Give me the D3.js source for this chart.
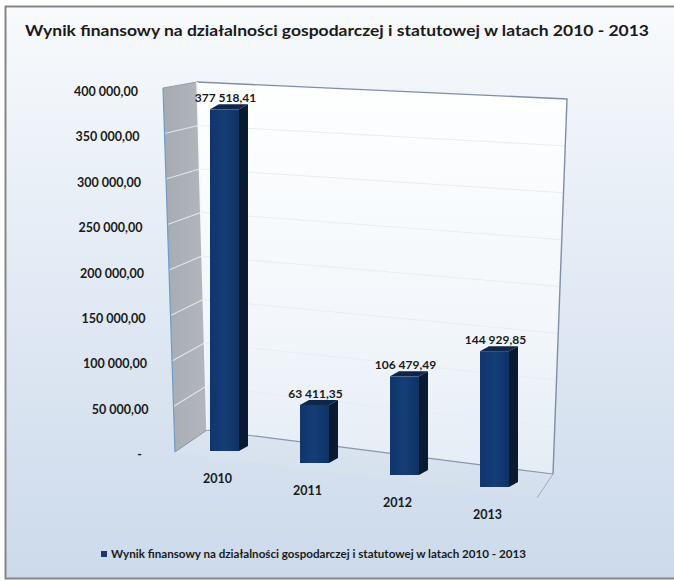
<!DOCTYPE html>
<html>
<head>
<meta charset="utf-8">
<script src="https://cdn.jsdelivr.net/npm/d3@7"></script>
<style>
  body { margin: 0; background: #ffffff; }
  svg { display: block; }
  text { font-family: "Lato", "Open Sans", "DejaVu Sans", sans-serif; font-weight: 700; fill: #1a1a1a; }
</style>
</head>
<body>
<script>
// ---- data ----
const chartTitle = "Wynik finansowy na działalności gospodarczej i statutowej w latach 2010 - 2013";
const seriesName = "Wynik finansowy na działalności gospodarczej i statutowej w latach 2010 - 2013";
const years = ["2010", "2011", "2012", "2013"];
const results = [377518.41, 63411.35, 106479.49, 144929.85];
const resultLabels = ["377 518,41", "63 411,35", "106 479,49", "144 929,85"];
const tickValues = [0, 50000, 100000, 150000, 200000, 250000, 300000, 350000, 400000];
const tickLabels = ["-", "50 000,00", "100 000,00", "150 000,00", "200 000,00",
                    "250 000,00", "300 000,00", "350 000,00", "400 000,00"];

const W = 674, H = 581;
const svg = d3.select("body").append("svg").attr("width", W).attr("height", H);
const defs = svg.append("defs");

function linGrad(id, x1, y1, x2, y2, stops) {
  const g = defs.append("linearGradient").attr("id", id)
    .attr("x1", x1).attr("y1", y1).attr("x2", x2).attr("y2", y2);
  stops.forEach(([o, c]) => g.append("stop").attr("offset", o).attr("stop-color", c));
}
linGrad("panelBg", 0, 0, 0, 1, [[0, "#f8fafc"], [0.45, "#e3ebf5"], [1, "#ccdaeb"]]);
linGrad("backWall", 0, 0, 0, 1, [[0, "#feffff"], [0.6, "#f3f7fb"], [1, "#e4ecf5"]]);
linGrad("sideWall", 0, 0, 1, 0, [[0, "#a6abb2"], [1, "#b3b7bd"]]);
linGrad("floorFill", 0, 0, 0, 1, [[0, "#dbe5f1"], [1, "#d4dfed"]]);
linGrad("barFront", 0, 0, 1, 0, [[0, "#0f356c"], [0.5, "#153d76"], [1, "#0f3265"]]);

// ---- outer panel ----
svg.append("rect").attr("x", 5.5).attr("y", 6.5).attr("width", W).attr("height", 572)
  .attr("fill", "url(#panelBg)").attr("stroke", "#858585").attr("stroke-width", 2);

// ---- title ----
svg.append("text").attr("x", 337).attr("y", 36).attr("text-anchor", "middle")
  .attr("font-size", 16).attr("textLength", 624).attr("lengthAdjust", "spacingAndGlyphs")
  .text(chartTitle);

// ---- 3D frame (walls + floor) ----
const lerp = (a, b, t) => [a[0] + (b[0] - a[0]) * t, a[1] + (b[1] - a[1]) * t];
const sideFrontBottom = [175, 452], sideFrontTop = [163, 88];
const backLeftBottom = [207, 430], backLeftTop = [197, 82];
const backRightBottom = [553, 474], backRightTop = [567, 99];
const floorFrontRight = [537, 498];

// fraction of wall height for a value
const wallT = d3.scaleLinear().domain([0, 400000]).range([0, 1]);

const poly = pts => "M" + pts.map(p => p.join(",")).join("L") + "Z";

// floor
svg.append("path")
  .attr("d", poly([sideFrontBottom, backLeftBottom, backRightBottom, floorFrontRight]))
  .attr("fill", "url(#floorFill)");
svg.append("path")
  .attr("d", "M" + backRightBottom.join(",") + "L" + floorFrontRight.join(","))
  .attr("stroke", "#9fadc0").attr("stroke-width", 1).attr("fill", "none");

// back wall
svg.append("path")
  .attr("d", poly([backLeftBottom, backLeftTop, backRightTop, backRightBottom]))
  .attr("fill", "url(#backWall)");
tickValues.slice(1, -1).forEach(v => {
  const t = wallT(v);
  const a = lerp(backLeftBottom, backLeftTop, t), b = lerp(backRightBottom, backRightTop, t);
  svg.append("line").attr("x1", a[0]).attr("y1", a[1]).attr("x2", b[0]).attr("y2", b[1])
    .attr("stroke", "#e8edf3").attr("stroke-width", 1);
});
svg.append("path")
  .attr("d", "M" + backLeftTop.join(",") + "L" + backRightTop.join(",") + "L" + backRightBottom.join(","))
  .attr("stroke", "#7f8ea6").attr("stroke-width", 1.4).attr("fill", "none");
svg.append("path")
  .attr("d", "M" + backLeftBottom.join(",") + "L" + backRightBottom.join(","))
  .attr("stroke", "#8796ad").attr("stroke-width", 1.2).attr("fill", "none");

// side wall
svg.append("path")
  .attr("d", poly([sideFrontBottom, sideFrontTop, backLeftTop, backLeftBottom]))
  .attr("fill", "url(#sideWall)");
tickValues.slice(1, -1).forEach(v => {
  const t = wallT(v);
  const a = lerp(sideFrontBottom, sideFrontTop, t), b = lerp(backLeftBottom, backLeftTop, t);
  svg.append("line").attr("x1", a[0]).attr("y1", a[1]).attr("x2", b[0]).attr("y2", b[1])
    .attr("stroke", "#e2e5e9").attr("stroke-width", 1.2);
});
svg.append("path")
  .attr("d", "M" + sideFrontBottom.join(",") + "L" + sideFrontTop.join(","))
  .attr("stroke", "#6f9ccc").attr("stroke-width", 1.2).attr("fill", "none");
svg.append("path")
  .attr("d", "M" + sideFrontTop.join(",") + "L" + backLeftTop.join(","))
  .attr("stroke", "#9aa0a8").attr("stroke-width", 1.2).attr("fill", "none");
svg.append("path")
  .attr("d", "M" + backLeftTop.join(",") + "L" + backLeftBottom.join(","))
  .attr("stroke", "#f4f7fb").attr("stroke-width", 1.5).attr("fill", "none");
svg.append("path")
  .attr("d", "M" + sideFrontBottom.join(",") + "L" + backLeftBottom.join(","))
  .attr("stroke", "#8a98ad").attr("stroke-width", 1).attr("fill", "none");

// ---- value axis labels ----
const yAxisScale = d3.scaleLinear().domain([0, 400000]).range([455, 92]);
const labelRight = d3.scaleLinear().domain([0, 400000]).range([150, 138]);
svg.append("g").selectAll("text").data(tickValues).join("text")
  .attr("x", (d, i) => i === 0 ? 142 : labelRight(d))
  .attr("y", d => yAxisScale(d) + 4)
  .attr("text-anchor", "end")
  .attr("font-size", 12.5)
  .text((d, i) => tickLabels[i]);

// ---- bars ----
const x = d3.scaleBand().domain(years).range([210, 509]).paddingInner(0.678).paddingOuter(0);
const barH = d3.scaleLinear().domain([0, 400000]).range([0, 362]);
// bars further right sit lower on the tilted floor and appear slightly larger
const baseY = d3.scaleLinear().domain([210, 480]).range([451, 487]);
const persp = d3.scaleLinear().domain([210, 553]).range([1.0, 1.045]);
const depth = [9, -5];
const bw = x.bandwidth();

const bars = svg.append("g").selectAll("g").data(years).join("g");
bars.each(function (yr, i) {
  const g = d3.select(this);
  const x0 = x(yr), x1 = x0 + bw;
  const yb = baseY(x0);
  const yt = yb - barH(results[i]) * persp(x0);
  const [dx, dy] = depth;
  // right side face
  g.append("path").attr("d", poly([[x1, yb], [x1, yt], [x1 + dx, yt + dy], [x1 + dx, yb + dy]]))
    .attr("fill", "#0a1a31");
  // top face
  g.append("path").attr("d", poly([[x0, yt], [x0 + dx, yt + dy], [x1 + dx, yt + dy], [x1, yt]]))
    .attr("fill", "#0e2649");
  // front face
  g.append("rect").attr("x", x0).attr("y", yt).attr("width", bw).attr("height", yb - yt)
    .attr("fill", "url(#barFront)");
  // value label
  g.append("text").attr("x", x0 + bw / 2 + 1).attr("y", yt - 7)
    .attr("text-anchor", "middle").attr("font-size", 12).text(resultLabels[i]);
  // category label
  g.append("text").attr("x", x0 + bw / 2 - 7).attr("y", yb + 32)
    .attr("text-anchor", "middle").attr("font-size", 12.5).text(yr);
});

// ---- legend ----
svg.append("rect").attr("x", 101).attr("y", 551).attr("width", 6).attr("height", 6)
  .attr("fill", "#1b3a6b");
svg.append("text").attr("x", 111).attr("y", 558).attr("font-size", 11)
  .attr("textLength", 415).attr("lengthAdjust", "spacingAndGlyphs")
  .text(seriesName);
</script>
</body>
</html>
